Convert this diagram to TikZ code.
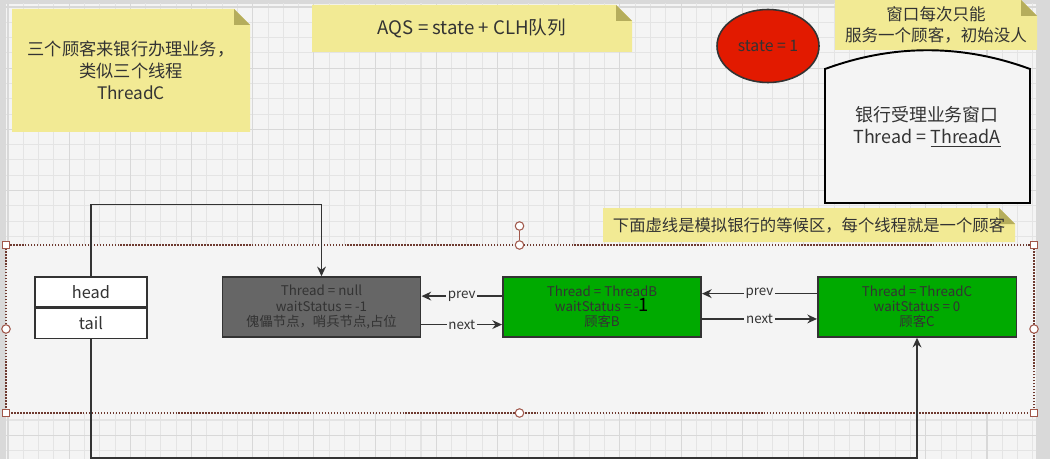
\documentclass[tikz,border=0pt]{standalone}
\usepackage{fontspec}
\setmainfont{Noto Sans CJK SC}
\usetikzlibrary{arrows.meta,positioning,calc,shapes.geometric}
\definecolor{pagec}{HTML}{F4F4F4}
\definecolor{gridc}{HTML}{E4E4E4}
\definecolor{gridmc}{HTML}{D8D8D8}
\definecolor{barc}{HTML}{D9D9D9}
\definecolor{notec}{HTML}{F2EA94}
\definecolor{foldc}{HTML}{B5AD5C}
\definecolor{inkc}{HTML}{333333}
\definecolor{dummyc}{HTML}{666666}
\definecolor{custc}{HTML}{00AA00}
\definecolor{statec}{HTML}{E21A00}
\definecolor{selc}{HTML}{6E3A30}
\definecolor{handc}{HTML}{A0574A}
\tikzset{
  >={Stealth[length=5.5pt,width=5pt]},
  stickytxt/.style={font=\fontsize{9.4}{12.2}\selectfont,text=inkc,align=center,inner sep=0pt},
  fieldbox/.style={draw=inkc,line width=0.85pt,fill=white,minimum width=2.24cm,minimum height=0.6cm,inner sep=0pt,font=\fontsize{9.3}{10}\selectfont,text=inkc},
  qnode/.style={draw=inkc,line width=0.85pt,minimum width=3.97cm,minimum height=1.2cm,inner sep=0pt,align=center,font=\fontsize{7.6}{8.6}\selectfont,text=inkc},
  dummynode/.style={qnode,fill=dummyc},
  custnode/.style={qnode,fill=custc},
  link/.style={->,line width=0.85pt,draw=inkc},
  linklbl/.style={fill=pagec,font=\fontsize{7.6}{8}\selectfont,text=inkc,inner sep=1pt},
  zone/.style={draw=selc,fill=pagec,line width=0.9pt,dash pattern=on 0.9pt off 0.8pt},
  hsq/.style={draw=handc,fill=white,line width=0.6pt,minimum size=0.14cm,inner sep=0pt},
  hcirc/.style={hsq,circle,minimum size=0.17cm},
  winline/.style={draw=black,fill=pagec,line width=1.1pt},
  wintxt/.style={font=\fontsize{10.2}{12.6}\selectfont,text=inkc,align=center},
}
\newcommand{\sticky}[7][]{%
  \fill[notec] (#3,#4) -- ({#5-16},#4) -- (#5,{#4+16}) -- (#5,#6) -- (#3,#6) -- cycle;
  \fill[foldc] ({#5-16},#4) -- ({#5-16},{#4+16}) -- (#5,{#4+16}) -- cycle;
  \node[stickytxt,#1] (#2) at ({(#3+#5)/2},{(#4+#6)/2}) {#7};}
\begin{document}
\begin{tikzpicture}[x=0.02cm,y=-0.02cm]
  \useasboundingbox (0,0) rectangle (1050,459);
  \fill[barc] (0,0) rectangle (1050,459);
  \fill[pagec] (6,4) rectangle (1036,459);
  \begin{scope}
    \clip (6,4) rectangle (1036,459);
    \begin{scope}[shift={(8,7)}]
      \draw[gridc,line width=0.6pt,step=0.306cm] (-10,-10) grid (1040,460);
      \draw[gridmc,line width=0.6pt,step=1.224cm] (-10,-10) grid (1040,460);
    \end{scope}
  \end{scope}
  \sticky[font=\fontsize{9.8}{12.6}\selectfont]{n1}{12}{9}{250}{132}{三个顾客来银行办理业务，\\类似三个线程\\ThreadC}
  \sticky[font=\fontsize{10.6}{12}\selectfont]{n2}{312}{5}{632}{52}{AQS = state + CLH队列}
  \sticky{n3}{835}{0}{1037}{50}{窗口每次只能\\服务一个顾客，初始没人}
  \sticky[font=\fontsize{9.3}{11}\selectfont]{n4}{603}{208}{1015}{242}{下面虚线是模拟银行的等候区，每个线程就是一个顾客}
  \node[ellipse,draw=inkc,line width=0.9pt,fill=statec,minimum width=1.94cm,minimum height=1.46cm,font=\fontsize{9}{10}\selectfont,text=inkc] (state) at (768,46) {state = 1};
  \draw[winline] (825,69) .. controls (893,44) and (962,44) .. (1030,69) -- (1030,203) -- (825,203) -- cycle;
  \node[wintxt] (win) at (927,127) {银行受理业务窗口\\Thread = \underline{ThreadA}};
  \draw[zone] (6,245) rectangle (1034,413);
  \node[fieldbox] (head) at (91,292) {head};
  \node[fieldbox,below=0pt of head] (tail) {tail};
  \node[dummynode] (dummy) at (321.5,307) {Thread = null\\waitStatus = -1\\傀儡节点，哨兵节点,占位};
  \node[custnode] (custB) at (602,307) {Thread = ThreadB\\waitStatus = -{\color{black}\fontsize{10.5}{8}\selectfont 1}\\顾客B};
  \node[custnode] (custC) at (917,307) {Thread = ThreadC\\waitStatus = 0\\顾客C};
  \draw[link] ([yshift=6.2pt]custB.west) -- node[linklbl] (pB) {prev} ([yshift=6.2pt]dummy.east);
  \draw[link] ([yshift=-10pt]dummy.east) -- node[linklbl] (nB) {next} ([yshift=-10pt]custB.west);
  \draw[link] ([yshift=7.6pt]custC.west) -- node[linklbl] (pC) {prev} ([yshift=7.6pt]custB.east);
  \draw[link] ([yshift=-6.8pt]custB.east) -- node[linklbl] (nC) {next} ([yshift=-6.8pt]custC.west);
  \draw[link] (head.north) -- ++(0,-72) -| (dummy.north);
  \draw[link] (tail.south) -- ++(0,119) -| (custC.south);
  \node[hcirc] (rot) at (519.5,226) {};
  \node[hcirc] (hT) at (519.5,245) {};
  \draw[handc,line width=0.6pt] (rot) -- (hT);
  \node[hcirc] (hB) at (519.5,413) {};
  \node[hcirc] (hL) at (6,329) {};
  \node[hcirc] (hR) at (1034,329) {};
  \node[hsq] (hNW) at (6,245) {};
  \node[hsq] (hNE) at (1034,245) {};
  \node[hsq] (hSW) at (6,413) {};
  \node[hsq] (hSE) at (1034,413) {};
\end{tikzpicture}
\end{document}
